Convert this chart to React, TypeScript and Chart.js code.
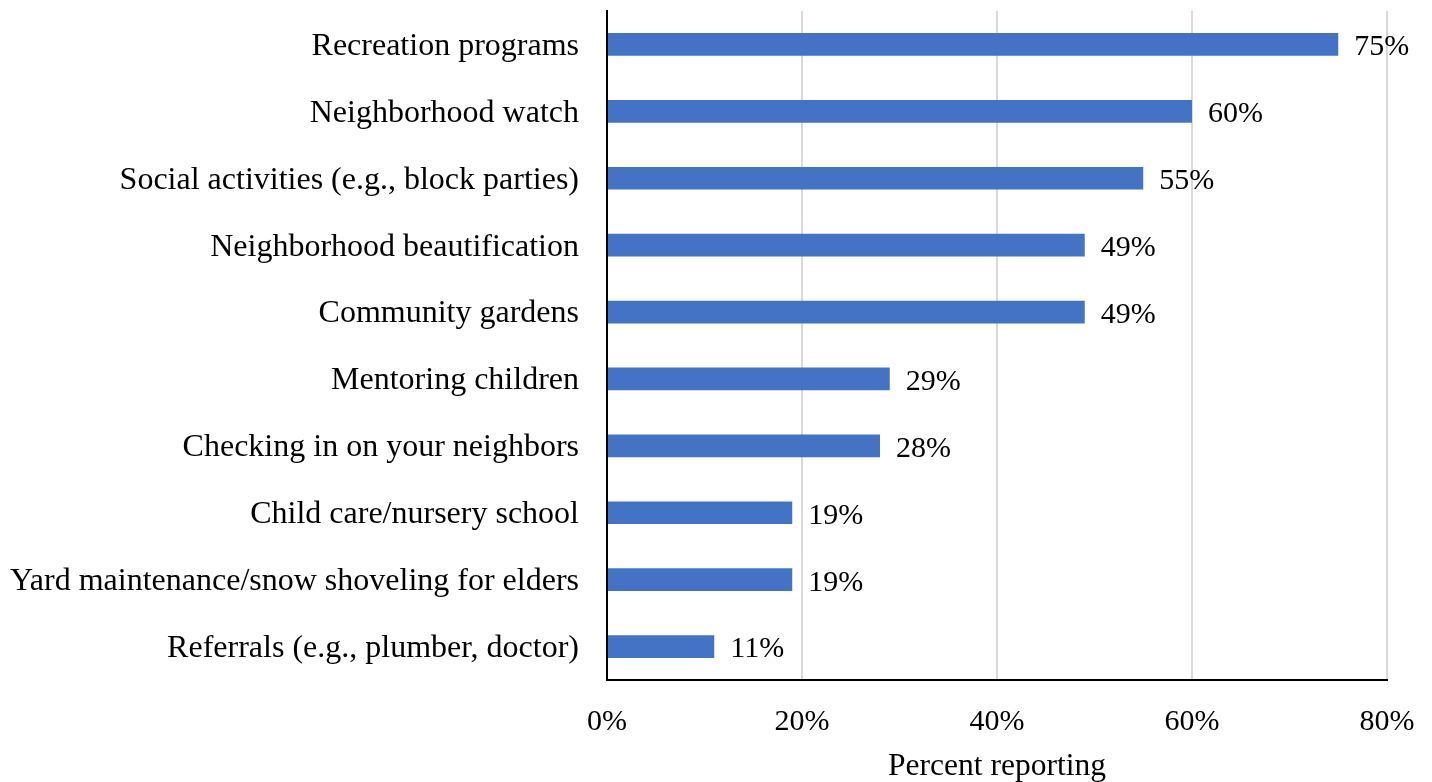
import React, { useEffect, useRef } from "react";
import { Chart, registerables } from "chart.js";

Chart.register(...registerables);

const categories = [
  "Recreation programs",
  "Neighborhood watch",
  "Social activities (e.g., block parties)",
  "Neighborhood beautification",
  "Community gardens",
  "Mentoring children",
  "Checking in on your neighbors",
  "Child care/nursery school",
  "Yard maintenance/snow shoveling for elders",
  "Referrals (e.g., plumber, doctor)",
];
const percentReporting = [75, 60, 55, 49, 49, 29, 28, 19, 19, 11];
const xTickValues = [0, 20, 40, 60, 80];
const axisTitle = "Percent reporting";

const FONT = "'Liberation Serif', 'Times New Roman', serif";

const valueLabelPlugin = {
  id: "valueLabels",
  afterDatasetsDraw(chart: any) {
    const ctx = chart.ctx;
    const meta = chart.getDatasetMeta(0);
    ctx.save();
    ctx.font = `30px ${FONT}`;
    ctx.fillStyle = "#000000";
    ctx.textAlign = "left";
    ctx.textBaseline = "middle";
    meta.data.forEach((bar: any, i: number) => {
      const v = chart.data.datasets[0].data[i];
      ctx.fillText(`${v}%`, bar.x + 16, bar.y + 3);
    });
    ctx.restore();
  },
};

export default function App() {
  const ref = useRef<HTMLCanvasElement | null>(null);
  useEffect(() => {
    if (!ref.current) return;
    const chart = new Chart(ref.current, {
      type: "bar",
      data: {
        labels: categories,
        datasets: [
          {
            data: percentReporting,
            backgroundColor: "#4472C4",
            barPercentage: 0.34,
            categoryPercentage: 1,
          },
        ],
      },
      options: {
        indexAxis: "y",
        animation: false,
        responsive: false,
        maintainAspectRatio: false,
        layout: { padding: { top: 11, right: 45, bottom: 0, left: 0 } },
        plugins: {
          legend: { display: false },
          tooltip: { enabled: false },
        },
        scales: {
          x: {
            min: 0,
            max: 80,
            afterBuildTicks: (scale: any) => {
              scale.ticks = xTickValues.map((v) => ({ value: v }));
            },
            afterFit: (scale: any) => {
              scale.height = 102;
              scale.paddingLeft = 0;
              scale.paddingRight = 0;
            },
            ticks: {
              callback: (v: any) => `${v}%`,
              color: "#000000",
              font: { family: FONT, size: 30 },
              padding: 24,
              maxRotation: 0,
            },
            grid: { color: "#d9d9d9", lineWidth: 2, drawTicks: false },
            border: { display: true, color: "#000000", width: 2 },
            title: {
              display: true,
              text: axisTitle,
              color: "#000000",
              font: { family: FONT, size: 31.5, lineHeight: 1 },
              padding: { top: 0, bottom: 0 },
            },
          },
          y: {
            afterFit: (scale: any) => {
              scale.width = 607;
              scale.paddingTop = 0;
              scale.paddingBottom = 0;
            },
            ticks: {
              color: "#000000",
              font: { family: FONT, size: 32 },
              padding: 28,
              labelOffset: 2,
              autoSkip: false,
            },
            grid: { display: false, drawTicks: false },
            border: { display: true, color: "#000000", width: 2 },
          },
        },
      },
      plugins: [valueLabelPlugin],
    });
    return () => chart.destroy();
  }, []);
  return (
    <div style={{ position: "fixed", left: 0, top: 0, width: 1432, height: 782, background: "#ffffff" }}>
      <canvas ref={ref} width={1432} height={782} style={{ display: "block" }} />
    </div>
  );
}
